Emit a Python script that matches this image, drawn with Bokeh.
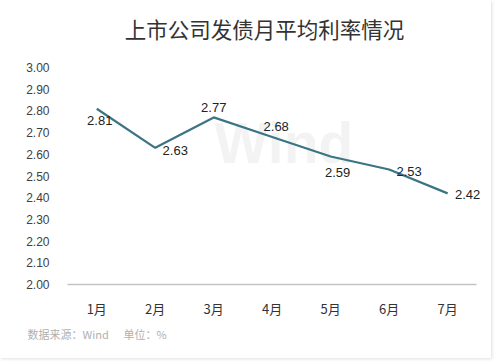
from bokeh.plotting import figure
from bokeh.models import ColumnDataSource, Range1d, FixedTicker, Label, NumeralTickFormatter, Title
from bokeh.core.properties import value
from bokeh.embed import file_html
from bokeh.resources import INLINE

months = ["1月", "2月", "3月", "4月", "5月", "6月", "7月"]
rates = [2.81, 2.63, 2.77, 2.68, 2.59, 2.53, 2.42]
rate_labels = ["2.81", "2.63", "2.77", "2.68", "2.59", "2.53", "2.42"]
y_ticks = [2.0, 2.1, 2.2, 2.3, 2.4, 2.5, 2.6, 2.7, 2.8, 2.9, 3.0]

# label placement offsets (style only, screen px; +dy = down)
label_dx = [3, 20, 0, 4, 7, 20, 20]
label_dy = [12, 3, -10, -10, 16, 2, 1]

xs = list(range(len(months)))
src = ColumnDataSource(dict(x=xs, r=rates, t=rate_labels, dx=label_dx, dy=label_dy))

# frame extends to the top edge so the title can live inside it
frame_h = 358 - 74
top_pad = frame_h / 217.0 - 1.0

p = figure(width=491, height=358, x_range=Range1d(-0.5, len(months) - 0.5 + 0.25),
           y_range=Range1d(2.0, 3.0 + top_pad),
           output_backend="svg", toolbar_location=None,
           min_border_left=67, min_border_right=0, min_border_top=0, min_border_bottom=74)
p.styles = {"box-shadow": "1px 1px 3px #e0e0e0"}
p.outline_line_color = None
p.background_fill_color = "white"
p.border_fill_color = "white"
p.xgrid.grid_line_color = None
p.ygrid.grid_line_color = None

p.yaxis.ticker = FixedTicker(ticks=y_ticks)
p.yaxis.formatter = NumeralTickFormatter(format="0.00")
p.yaxis.axis_line_color = None
p.yaxis.major_tick_line_color = None
p.yaxis.minor_tick_line_color = None
p.yaxis.major_tick_out = 0
p.yaxis.major_label_standoff = 18
p.yaxis.major_label_text_font = "Liberation Sans"
p.yaxis.major_label_text_font_size = "12px"
p.yaxis.major_label_text_color = "#404040"

p.xaxis.ticker = FixedTicker(ticks=xs)
p.xaxis.major_label_overrides = {i: m for i, m in zip(xs, months)}
p.xaxis.bounds = (-0.5, len(months) - 0.5)
p.xaxis.axis_line_color = "#c4c4c4"
p.xaxis.axis_line_width = 1.5
p.xaxis.major_tick_line_color = None
p.xaxis.minor_tick_line_color = None
p.xaxis.major_tick_out = 0
p.xaxis.major_label_standoff = 14
p.xaxis.major_label_text_font = "Noto Sans CJK SC"
p.xaxis.major_label_text_font_size = "13px"
p.xaxis.major_label_text_color = "#333333"

nb = "\u00a0"
p.add_layout(Title(text="数据来源：Wind" + nb * 6 + "单位：%", text_font="Noto Sans CJK SC",
                   text_font_size="11px", text_font_style="normal", text_color="#b0b0b0",
                   align="left", offset=-40, standoff=6), "below")

# title inside the extended frame
p.add_layout(Label(x=2.87, y=3.18, text="上市公司发债月平均利率情况", text_font="Noto Sans CJK SC",
                   text_font_size="21.5px", text_color="#333333", text_align="center",
                   text_baseline="middle"))

# watermark
p.add_layout(Label(x=3.2, y=2.65, text="Wind", text_font="Liberation Sans",
                   text_font_size="57px", text_font_style="bold", text_color="#f3f3f3",
                   text_align="center", text_baseline="middle", level="underlay"))

p.line("x", "r", source=src, line_color="#3b7484", line_width=2.2)
p.text("x", "r", text="t", source=src, x_offset="dx", y_offset="dy",
       text_font=value("Liberation Sans"), text_font_size="13px", text_color="#222222",
       text_align="center", text_baseline="middle")

open("out.html", "w").write(file_html(p, INLINE))
